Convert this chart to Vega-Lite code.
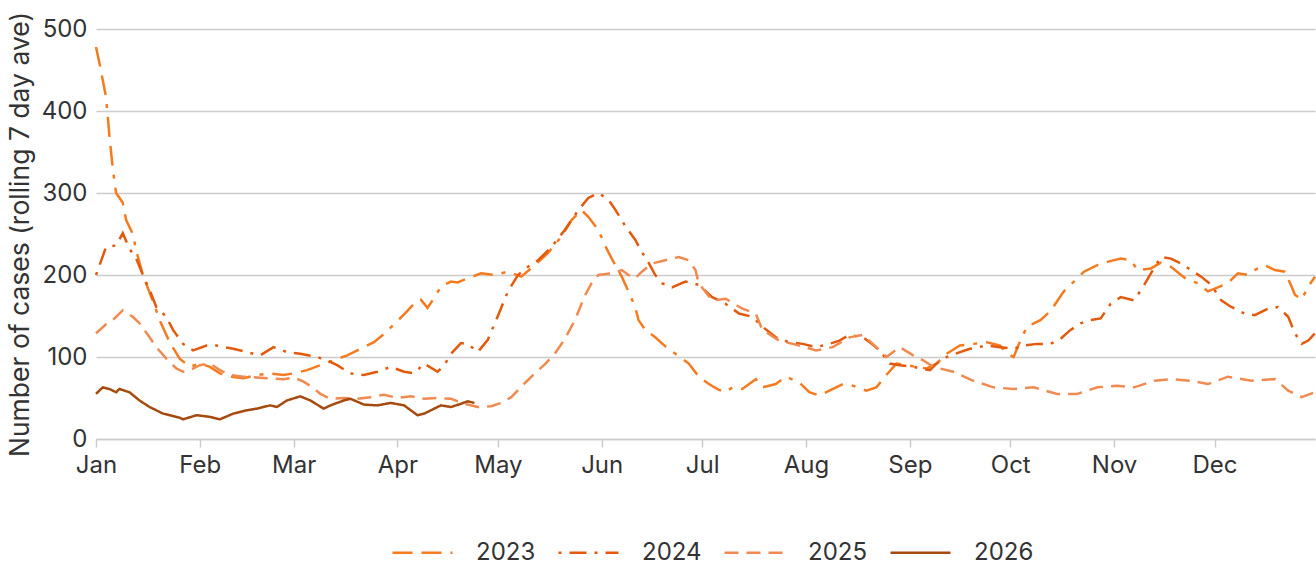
{
  "$schema": "https://vega.github.io/schema/vega-lite/v6.json",
  "width": 1219,
  "height": 410,
  "autosize": {"type": "none"},
  "padding": {"left": 96, "top": 29, "right": 1, "bottom": 125},
  "background": "white",
  "config": {"view": {"stroke": null}, "font": "Inter"},
  "data": {"values": [
    {"s":"2023","day":0,"v":478},{"s":"2023","day":1,"v":459},{"s":"2023","day":3,"v":417},{"s":"2023","day":4,"v":370},{"s":"2023","day":5,"v":330},{"s":"2023","day":6,"v":300},{"s":"2023","day":8,"v":288},{"s":"2023","day":9,"v":267},{"s":"2023","day":11,"v":250},{"s":"2023","day":12,"v":230},{"s":"2023","day":14,"v":200},{"s":"2023","day":17,"v":168},{"s":"2023","day":19,"v":145},{"s":"2023","day":22,"v":118},{"s":"2023","day":25,"v":98},{"s":"2023","day":28,"v":88},{"s":"2023","day":31,"v":92},{"s":"2023","day":34,"v":88},{"s":"2023","day":37,"v":80},{"s":"2023","day":40,"v":76},{"s":"2023","day":44,"v":74},{"s":"2023","day":48,"v":78},{"s":"2023","day":52,"v":80},{"s":"2023","day":56,"v":78},{"s":"2023","day":59,"v":80},{"s":"2023","day":63,"v":84},{"s":"2023","day":67,"v":90},{"s":"2023","day":71,"v":96},{"s":"2023","day":75,"v":102},{"s":"2023","day":79,"v":110},{"s":"2023","day":83,"v":118},{"s":"2023","day":86,"v":128},{"s":"2023","day":89,"v":140},{"s":"2023","day":92,"v":152},{"s":"2023","day":95,"v":165},{"s":"2023","day":97,"v":170},{"s":"2023","day":99,"v":160},{"s":"2023","day":101,"v":172},{"s":"2023","day":103,"v":186},{"s":"2023","day":106,"v":192},{"s":"2023","day":108,"v":191},{"s":"2023","day":111,"v":196},{"s":"2023","day":115,"v":202},{"s":"2023","day":119,"v":200},{"s":"2023","day":123,"v":204},{"s":"2023","day":127,"v":198},{"s":"2023","day":131,"v":212},{"s":"2023","day":135,"v":227},{"s":"2023","day":139,"v":247},{"s":"2023","day":142,"v":267},{"s":"2023","day":145,"v":279},{"s":"2023","day":147,"v":271},{"s":"2023","day":150,"v":255},{"s":"2023","day":152,"v":236},{"s":"2023","day":154,"v":220},{"s":"2023","day":157,"v":198},{"s":"2023","day":159,"v":180},{"s":"2023","day":161,"v":161},{"s":"2023","day":162,"v":145},{"s":"2023","day":164,"v":133},{"s":"2023","day":167,"v":124},{"s":"2023","day":170,"v":113},{"s":"2023","day":173,"v":104},{"s":"2023","day":177,"v":92},{"s":"2023","day":180,"v":76},{"s":"2023","day":183,"v":67},{"s":"2023","day":186,"v":60},{"s":"2023","day":188,"v":57},{"s":"2023","day":190,"v":63},{"s":"2023","day":193,"v":61},{"s":"2023","day":197,"v":73},{"s":"2023","day":199,"v":63},{"s":"2023","day":203,"v":67},{"s":"2023","day":206,"v":76},{"s":"2023","day":210,"v":69},{"s":"2023","day":213,"v":57},{"s":"2023","day":216,"v":53},{"s":"2023","day":219,"v":59},{"s":"2023","day":223,"v":67},{"s":"2023","day":226,"v":65},{"s":"2023","day":230,"v":59},{"s":"2023","day":233,"v":63},{"s":"2023","day":236,"v":78},{"s":"2023","day":239,"v":92},{"s":"2023","day":242,"v":90},{"s":"2023","day":245,"v":88},{"s":"2023","day":248,"v":86},{"s":"2023","day":251,"v":92},{"s":"2023","day":254,"v":104},{"s":"2023","day":258,"v":114},{"s":"2023","day":262,"v":116},{"s":"2023","day":266,"v":118},{"s":"2023","day":270,"v":114},{"s":"2023","day":272,"v":104},{"s":"2023","day":274,"v":100},{"s":"2023","day":276,"v":120},{"s":"2023","day":278,"v":137},{"s":"2023","day":282,"v":145},{"s":"2023","day":285,"v":156},{"s":"2023","day":289,"v":180},{"s":"2023","day":292,"v":192},{"s":"2023","day":295,"v":204},{"s":"2023","day":299,"v":212},{"s":"2023","day":302,"v":216},{"s":"2023","day":306,"v":220},{"s":"2023","day":309,"v":218},{"s":"2023","day":311,"v":206},{"s":"2023","day":315,"v":208},{"s":"2023","day":318,"v":215},{"s":"2023","day":321,"v":210},{"s":"2023","day":324,"v":200},{"s":"2023","day":326,"v":194},{"s":"2023","day":329,"v":190},{"s":"2023","day":332,"v":180},{"s":"2023","day":335,"v":185},{"s":"2023","day":338,"v":190},{"s":"2023","day":341,"v":202},{"s":"2023","day":344,"v":200},{"s":"2023","day":346,"v":206},{"s":"2023","day":349,"v":212},{"s":"2023","day":352,"v":206},{"s":"2023","day":355,"v":204},{"s":"2023","day":357,"v":186},{"s":"2023","day":358,"v":176},{"s":"2023","day":360,"v":170},{"s":"2023","day":362,"v":186},{"s":"2023","day":364,"v":198},
    {"s":"2024","day":0,"v":200},{"s":"2024","day":3,"v":234},{"s":"2024","day":6,"v":236},{"s":"2024","day":8,"v":251},{"s":"2024","day":10,"v":232},{"s":"2024","day":12,"v":220},{"s":"2024","day":14,"v":200},{"s":"2024","day":16,"v":182},{"s":"2024","day":18,"v":161},{"s":"2024","day":21,"v":149},{"s":"2024","day":23,"v":133},{"s":"2024","day":26,"v":116},{"s":"2024","day":29,"v":108},{"s":"2024","day":33,"v":114},{"s":"2024","day":36,"v":114},{"s":"2024","day":38,"v":112},{"s":"2024","day":41,"v":110},{"s":"2024","day":45,"v":106},{"s":"2024","day":49,"v":102},{"s":"2024","day":53,"v":112},{"s":"2024","day":57,"v":106},{"s":"2024","day":61,"v":104},{"s":"2024","day":66,"v":100},{"s":"2024","day":69,"v":96},{"s":"2024","day":72,"v":90},{"s":"2024","day":76,"v":80},{"s":"2024","day":80,"v":78},{"s":"2024","day":84,"v":82},{"s":"2024","day":88,"v":88},{"s":"2024","day":92,"v":82},{"s":"2024","day":95,"v":80},{"s":"2024","day":98,"v":92},{"s":"2024","day":102,"v":82},{"s":"2024","day":104,"v":90},{"s":"2024","day":106,"v":104},{"s":"2024","day":109,"v":117},{"s":"2024","day":111,"v":116},{"s":"2024","day":114,"v":106},{"s":"2024","day":117,"v":121},{"s":"2024","day":120,"v":150},{"s":"2024","day":123,"v":180},{"s":"2024","day":126,"v":200},{"s":"2024","day":129,"v":210},{"s":"2024","day":132,"v":218},{"s":"2024","day":136,"v":234},{"s":"2024","day":140,"v":255},{"s":"2024","day":144,"v":279},{"s":"2024","day":147,"v":294},{"s":"2024","day":150,"v":300},{"s":"2024","day":153,"v":292},{"s":"2024","day":155,"v":280},{"s":"2024","day":158,"v":260},{"s":"2024","day":161,"v":243},{"s":"2024","day":163,"v":228},{"s":"2024","day":165,"v":215},{"s":"2024","day":167,"v":200},{"s":"2024","day":169,"v":190},{"s":"2024","day":172,"v":185},{"s":"2024","day":176,"v":192},{"s":"2024","day":180,"v":188},{"s":"2024","day":184,"v":173},{"s":"2024","day":188,"v":165},{"s":"2024","day":192,"v":153},{"s":"2024","day":196,"v":149},{"s":"2024","day":199,"v":137},{"s":"2024","day":203,"v":124},{"s":"2024","day":207,"v":118},{"s":"2024","day":211,"v":116},{"s":"2024","day":215,"v":112},{"s":"2024","day":219,"v":116},{"s":"2024","day":222,"v":120},{"s":"2024","day":225,"v":127},{"s":"2024","day":229,"v":124},{"s":"2024","day":232,"v":115},{"s":"2024","day":234,"v":108},{"s":"2024","day":237,"v":92},{"s":"2024","day":240,"v":90},{"s":"2024","day":244,"v":88},{"s":"2024","day":249,"v":84},{"s":"2024","day":251,"v":92},{"s":"2024","day":254,"v":100},{"s":"2024","day":258,"v":106},{"s":"2024","day":261,"v":110},{"s":"2024","day":266,"v":114},{"s":"2024","day":270,"v":112},{"s":"2024","day":274,"v":110},{"s":"2024","day":277,"v":114},{"s":"2024","day":281,"v":116},{"s":"2024","day":285,"v":116},{"s":"2024","day":288,"v":122},{"s":"2024","day":291,"v":133},{"s":"2024","day":294,"v":141},{"s":"2024","day":297,"v":145},{"s":"2024","day":300,"v":147},{"s":"2024","day":303,"v":165},{"s":"2024","day":306,"v":173},{"s":"2024","day":310,"v":169},{"s":"2024","day":313,"v":188},{"s":"2024","day":315,"v":202},{"s":"2024","day":318,"v":222},{"s":"2024","day":321,"v":220},{"s":"2024","day":324,"v":214},{"s":"2024","day":327,"v":206},{"s":"2024","day":330,"v":198},{"s":"2024","day":333,"v":188},{"s":"2024","day":336,"v":169},{"s":"2024","day":339,"v":161},{"s":"2024","day":343,"v":153},{"s":"2024","day":346,"v":151},{"s":"2024","day":350,"v":159},{"s":"2024","day":353,"v":161},{"s":"2024","day":356,"v":149},{"s":"2024","day":358,"v":129},{"s":"2024","day":360,"v":116},{"s":"2024","day":362,"v":120},{"s":"2024","day":364,"v":129},
    {"s":"2025","day":0,"v":129},{"s":"2025","day":3,"v":140},{"s":"2025","day":5,"v":145},{"s":"2025","day":8,"v":157},{"s":"2025","day":11,"v":149},{"s":"2025","day":13,"v":141},{"s":"2025","day":16,"v":124},{"s":"2025","day":18,"v":112},{"s":"2025","day":21,"v":98},{"s":"2025","day":24,"v":86},{"s":"2025","day":26,"v":82},{"s":"2025","day":28,"v":84},{"s":"2025","day":31,"v":90},{"s":"2025","day":34,"v":92},{"s":"2025","day":37,"v":84},{"s":"2025","day":40,"v":78},{"s":"2025","day":44,"v":76},{"s":"2025","day":48,"v":75},{"s":"2025","day":52,"v":74},{"s":"2025","day":56,"v":73},{"s":"2025","day":59,"v":75},{"s":"2025","day":62,"v":70},{"s":"2025","day":65,"v":62},{"s":"2025","day":67,"v":55},{"s":"2025","day":70,"v":49},{"s":"2025","day":74,"v":50},{"s":"2025","day":78,"v":49},{"s":"2025","day":82,"v":51},{"s":"2025","day":86,"v":54},{"s":"2025","day":90,"v":50},{"s":"2025","day":94,"v":52},{"s":"2025","day":98,"v":49},{"s":"2025","day":102,"v":50},{"s":"2025","day":106,"v":49},{"s":"2025","day":110,"v":43},{"s":"2025","day":114,"v":39},{"s":"2025","day":118,"v":40},{"s":"2025","day":121,"v":44},{"s":"2025","day":124,"v":51},{"s":"2025","day":128,"v":68},{"s":"2025","day":131,"v":80},{"s":"2025","day":134,"v":91},{"s":"2025","day":137,"v":104},{"s":"2025","day":140,"v":122},{"s":"2025","day":143,"v":145},{"s":"2025","day":146,"v":175},{"s":"2025","day":148,"v":190},{"s":"2025","day":150,"v":200},{"s":"2025","day":154,"v":202},{"s":"2025","day":157,"v":206},{"s":"2025","day":159,"v":200},{"s":"2025","day":161,"v":196},{"s":"2025","day":163,"v":204},{"s":"2025","day":166,"v":214},{"s":"2025","day":170,"v":218},{"s":"2025","day":174,"v":222},{"s":"2025","day":177,"v":218},{"s":"2025","day":179,"v":206},{"s":"2025","day":180,"v":190},{"s":"2025","day":184,"v":169},{"s":"2025","day":188,"v":171},{"s":"2025","day":193,"v":159},{"s":"2025","day":197,"v":153},{"s":"2025","day":199,"v":133},{"s":"2025","day":204,"v":120},{"s":"2025","day":210,"v":114},{"s":"2025","day":215,"v":108},{"s":"2025","day":220,"v":112},{"s":"2025","day":225,"v":124},{"s":"2025","day":229,"v":127},{"s":"2025","day":233,"v":112},{"s":"2025","day":236,"v":100},{"s":"2025","day":240,"v":112},{"s":"2025","day":244,"v":102},{"s":"2025","day":247,"v":96},{"s":"2025","day":250,"v":88},{"s":"2025","day":256,"v":82},{"s":"2025","day":262,"v":71},{"s":"2025","day":268,"v":63},{"s":"2025","day":274,"v":61},{"s":"2025","day":280,"v":63},{"s":"2025","day":287,"v":55},{"s":"2025","day":293,"v":55},{"s":"2025","day":299,"v":63},{"s":"2025","day":305,"v":65},{"s":"2025","day":310,"v":63},{"s":"2025","day":316,"v":71},{"s":"2025","day":321,"v":73},{"s":"2025","day":327,"v":71},{"s":"2025","day":332,"v":67},{"s":"2025","day":338,"v":76},{"s":"2025","day":345,"v":71},{"s":"2025","day":352,"v":73},{"s":"2025","day":356,"v":59},{"s":"2025","day":360,"v":51},{"s":"2025","day":364,"v":57},
    {"s":"2026","day":0,"v":55},{"s":"2026","day":2,"v":63},{"s":"2026","day":4,"v":61},{"s":"2026","day":6,"v":57},{"s":"2026","day":7,"v":61},{"s":"2026","day":10,"v":57},{"s":"2026","day":13,"v":47},{"s":"2026","day":16,"v":39},{"s":"2026","day":20,"v":31},{"s":"2026","day":25,"v":26},{"s":"2026","day":26,"v":24},{"s":"2026","day":30,"v":29},{"s":"2026","day":34,"v":27},{"s":"2026","day":37,"v":24},{"s":"2026","day":41,"v":31},{"s":"2026","day":45,"v":35},{"s":"2026","day":48,"v":37},{"s":"2026","day":52,"v":41},{"s":"2026","day":54,"v":39},{"s":"2026","day":57,"v":47},{"s":"2026","day":61,"v":52},{"s":"2026","day":64,"v":47},{"s":"2026","day":68,"v":37},{"s":"2026","day":70,"v":41},{"s":"2026","day":74,"v":47},{"s":"2026","day":76,"v":49},{"s":"2026","day":80,"v":42},{"s":"2026","day":84,"v":41},{"s":"2026","day":88,"v":44},{"s":"2026","day":92,"v":41},{"s":"2026","day":96,"v":29},{"s":"2026","day":98,"v":31},{"s":"2026","day":103,"v":41},{"s":"2026","day":106,"v":39},{"s":"2026","day":109,"v":43},{"s":"2026","day":111,"v":46},{"s":"2026","day":113,"v":44}
  ]},
  "mark": {"type": "line", "strokeWidth": 2.5},
  "encoding": {
    "x": {
      "field": "day", "type": "quantitative",
      "scale": {"domain": [0, 364], "nice": false, "zero": false},
      "axis": {
        "values": [0, 31, 59, 90, 120, 151, 181, 212, 243, 273, 304, 334],
        "labelExpr": "['Jan','Feb','Mar','Apr','May','Jun','Jul','Aug','Sep','Oct','Nov','Dec'][indexof([0,31,59,90,120,151,181,212,243,273,304,334], datum.value)]",
        "title": null, "grid": false,
        "domainColor": "#cccccc", "domainWidth": 1.5,
        "tickColor": "#cccccc", "tickSize": 8, "tickWidth": 1.5,
        "labelFontSize": 24, "labelColor": "#333333", "labelPadding": 6,
        "labelFlush": false, "labelOverlap": false
      }
    },
    "y": {
      "field": "v", "type": "quantitative",
      "scale": {"domain": [0, 500], "nice": false},
      "axis": {
        "values": [0, 100, 200, 300, 400, 500],
        "title": "Number of cases (rolling 7 day ave)",
        "domain": false, "ticks": false,
        "gridColor": "#cccccc", "gridWidth": 1.5,
        "labelFontSize": 24, "labelColor": "#333333", "labelPadding": 9,
        "titleFontSize": 26.5, "titleFontWeight": "normal", "titleColor": "#333333",
        "titlePadding": 7
      }
    },
    "color": {
      "field": "s", "type": "nominal",
      "scale": {"domain": ["2023", "2024", "2025", "2026"], "range": ["#F47B20", "#E35A0C", "#F08A50", "#A64B0F"]},
      "legend": {"title": null, "orient": "none", "direction": "horizontal", "legendX": 295, "legendY": 492, "symbolType": "stroke", "symbolSize": 3600, "symbolStrokeWidth": 2.5, "labelFontSize": 24, "labelColor": "#333333", "labelOffset": 22, "columnPadding": 17}
    },
    "strokeDash": {
      "field": "s", "type": "nominal",
      "scale": {"domain": ["2023", "2024", "2025", "2026"], "range": [[20, 9, 20, 9, 4, 9], [3, 8, 17, 8], [14, 8], [1, 0]]},
      "legend": {"title": null, "orient": "none", "direction": "horizontal", "legendX": 295, "legendY": 492, "symbolType": "stroke", "symbolSize": 3600, "symbolStrokeWidth": 2.5, "labelFontSize": 24, "labelColor": "#333333", "labelOffset": 22, "columnPadding": 17}
    }
  }
}
